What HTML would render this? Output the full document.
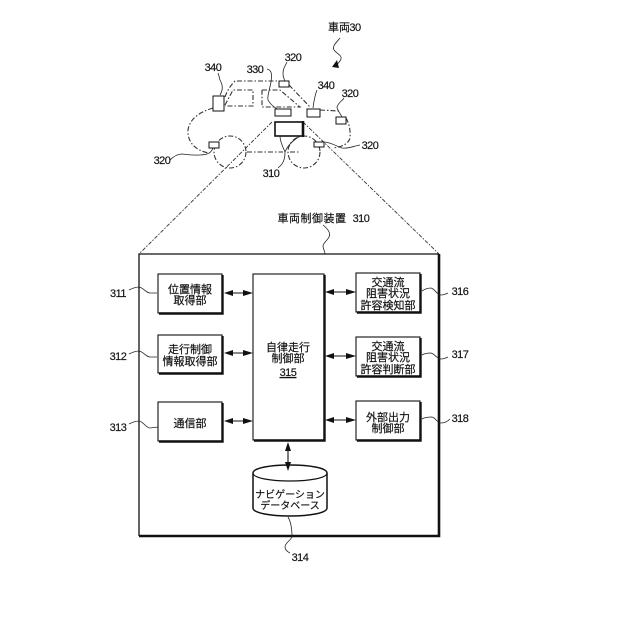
<!DOCTYPE html>
<html><head><meta charset="utf-8"><style>
html,body{margin:0;padding:0;background:#fff}
svg{display:block;filter:blur(.3px)}
text{font-family:"Liberation Sans","Noto Sans CJK JP",sans-serif;font-size:11px;fill:#111;stroke:#111;stroke-width:.18;text-anchor:middle}
.n{font-size:11px;letter-spacing:-.5px}
.b{fill:#fff;stroke:#111;stroke-width:1.1}
.s{fill:none;stroke:#111;stroke-width:2.4}
.w{fill:none;stroke:#222;stroke-width:.8}
.d{fill:none;stroke:#333;stroke-width:1.1;stroke-dasharray:5 2 1.5 2}
.l{fill:none;stroke:#333;stroke-width:.9;stroke-dasharray:4 1.5 1.5 1.5}
.sq{fill:#fff;stroke:#111;stroke-width:1}
.a{fill:none;stroke:#111;stroke-width:1.1}
.h{fill:#111;stroke:none}
</style></head><body>
<svg width="640" height="640" viewBox="0 0 640 640" xmlns="http://www.w3.org/2000/svg">
<!-- car -->
<path class="d" d="M213 108C200 112 190 118 188 130C187 142 196 151 209 153"/>
<path class="d" d="M225 97Q228 88 235 81L280 81M289 85L310 107M320 110L340 111M346 118Q351 127 350 138Q348 146 333 148"/>
<path class="d" d="M225 105L233 90L253 90L253 106L225 106"/>
<path class="d" d="M262 90L280 90L300 107L262 107L262 90"/>
<path class="d" d="M247 152L283 152M290 152L300 152"/>
<circle class="d" cx="230" cy="152" r="16"/>
<circle class="d" cx="304" cy="152" r="16"/>
<path class="l" d="M272 122L139 254"/>
<path class="l" d="M303 122L439 254"/>
<rect class="sq" x="213" y="96" width="11" height="15"/>
<rect class="sq" x="279" y="81" width="10" height="6"/>
<rect class="sq" x="275" y="109" width="16" height="7"/>
<rect class="sq" x="307" y="109" width="13" height="8"/>
<rect class="sq" x="336" y="117" width="10" height="7"/>
<rect class="sq" x="209" y="142" width="10" height="6"/>
<rect class="sq" x="314" y="142" width="10" height="5"/>
<rect x="275" y="122" width="28" height="14" fill="#fff" stroke="#111" stroke-width="1.6"/>
<path d="M303 121V137" stroke="#111" stroke-width="2.6"/>
<path class="w" d="M220 95C224 88 222 84 220 80C219 77 219 75 218 73"/>
<path class="w" d="M285 81C282 75 283 71 284 68C285 66 286 64 287 62"/>
<path class="w" d="M267 69C272 70 272 75 271 82C269 92 267 97 268 100C270 104 274 107 277 109"/>
<path class="w" d="M313 108C314 100 315 95 317 90"/>
<path class="w" d="M342 117C340 113 337 110 337 107C338 103 342 101 344 98"/>
<path class="w" d="M170 160C174 156 178 154 182 154C190 155 200 156 207 154Q211 153 213 148"/>
<path class="w" d="M324 142C330 142 336 146 342 148C348 149 354 146 360 145"/>
<path class="w" d="M280 136C280 142 283 147 285 152C287 147 292 141 300 136M285 152C285 160 283 164 278 168"/>
<path class="w" d="M340 38C336 43 332 46 334 50C337 54 342 55 341 59C340 62 337 64 336 66"/>
<path class="h" d="M332 67L337 60L339 68Z"/>
<text x="339" y="31">車両</text><text class="n" x="355" y="31">30</text>
<text class="n" x="213" y="71">340</text>
<text class="n" x="293" y="61">320</text>
<text class="n" x="255" y="73">330</text>
<text class="n" x="326" y="89">340</text>
<text class="n" x="350" y="97">320</text>
<text class="n" x="162" y="164">320</text>
<text class="n" x="370" y="149">320</text>
<text class="n" x="271" y="177">310</text>

<text x="312" y="222" style="letter-spacing:.5px">車両制御装置</text>
<text class="n" x="361" y="222">310</text>
<path class="w" d="M323 225C328 229 331 233 329 237C327 241 323 243 323 246C323 249 325 251 325 254"/>

<!-- frame -->
<path fill="none" stroke="#111" stroke-width="1.3" d="M139 536V254H439"/>
<path fill="none" stroke="#111" stroke-width="2.6" d="M139 536H439V254"/>

<!-- left boxes -->
<rect class="b" x="158" y="274" width="64" height="39"/><path class="s" d="M159 313.5H222.5V275"/>
<rect class="b" x="158" y="335" width="64" height="38"/><path class="s" d="M159 373.5H222.5V336"/>
<rect class="b" x="158" y="402" width="64" height="39"/><path class="s" d="M159 441.5H222.5V403"/>
<text x="190" y="293">位置情報</text><text x="190" y="304">取得部</text>
<text x="190" y="353">走行制御</text><text x="190" y="365">情報取得部</text>
<text x="190" y="427">通信部</text>

<!-- center -->
<rect class="b" x="253" y="274" width="71" height="166"/><path class="s" d="M254 440.5H324.5V275"/>
<text x="288" y="351">自律走行</text><text x="288" y="362">制御部</text>
<text class="n" x="288" y="376" text-decoration="underline">315</text>

<!-- right boxes -->
<rect class="b" x="356" y="273" width="64" height="39"/><path class="s" d="M357 312.5H420.5V274"/>
<rect class="b" x="356" y="337" width="64" height="39"/><path class="s" d="M357 376.5H420.5V338"/>
<rect class="b" x="356" y="401" width="64" height="39"/><path class="s" d="M357 440.5H420.5V402"/>
<text x="388" y="286">交通流</text><text x="388" y="297">阻害状況</text><text x="388" y="309">許容検知部</text>
<text x="388" y="350">交通流</text><text x="388" y="361">阻害状況</text><text x="388" y="373">許容判断部</text>
<text x="388" y="421">外部出力</text><text x="388" y="432">制御部</text>

<!-- arrows -->
<path class="a" d="M226 293H251"/><path class="h" d="M224 293L233 290V296ZM253 293L243 290V296Z"/>
<path class="a" d="M226 353H251"/><path class="h" d="M224 353L233 350V356ZM253 353L243 350V356Z"/>
<path class="a" d="M226 421H251"/><path class="h" d="M224 421L233 418V424ZM253 421L243 418V424Z"/>
<path class="a" d="M327 292H354"/><path class="h" d="M325 292L334 289V295ZM356 292L346 289V295Z"/>
<path class="a" d="M327 356H354"/><path class="h" d="M325 356L334 353V359ZM356 356L346 353V359Z"/>
<path class="a" d="M327 420H354"/><path class="h" d="M325 420L334 417V423ZM356 420L346 417V423Z"/>

<!-- database -->
<path fill="#fff" stroke="#111" stroke-width="1.5" d="M253 473C253 468 270 465 290 465C310 465 327 468 327 473V508C327 513 310 516 290 516C270 516 253 513 253 508Z"/>
<path fill="none" stroke="#111" stroke-width="1.2" d="M253 473C253 478 270 481 290 481C310 481 327 478 327 473"/>
<path class="a" d="M288 444V469"/><path class="h" d="M288 442L285 451H291ZM288 471L285 462H291Z"/>
<text x="290" y="498" style="font-size:10px">ナビゲーション</text>
<text x="290" y="509" style="font-size:10px">データベース</text>

<!-- leaders -->
<path class="w" d="M129 290C133 288 136 287 139 287C144 288 146 293 150 293L157 293"/>
<path class="w" d="M129 354C133 352 136 351 139 351C144 352 146 357 150 357L157 357"/>
<path class="w" d="M129 424C133 422 136 421 139 421C144 422 146 428 150 428L158 427"/>
<path class="w" d="M422 291C425 289 428 288 431 288C435 289 437 295 441 295C444 295 446 294 448 293"/>
<path class="w" d="M422 355C425 353 428 353 431 353C435 354 437 359 441 359C444 359 446 358 448 357"/>
<path class="w" d="M422 419C425 417 429 417 432 417C436 418 437 423 441 423C445 423 448 421 450 419"/>
<path class="w" d="M288 517C291 522 292 528 292 537C290 541 285 543 285 547C285 550 288 552 290 553"/>
<text class="n" x="118" y="297">311</text>
<text class="n" x="118" y="360">312</text>
<text class="n" x="118" y="431">313</text>
<text class="n" x="460" y="295">316</text>
<text class="n" x="460" y="358">317</text>
<text class="n" x="460" y="422">318</text>
<text class="n" x="300" y="561">314</text>
</svg>
</body></html>
